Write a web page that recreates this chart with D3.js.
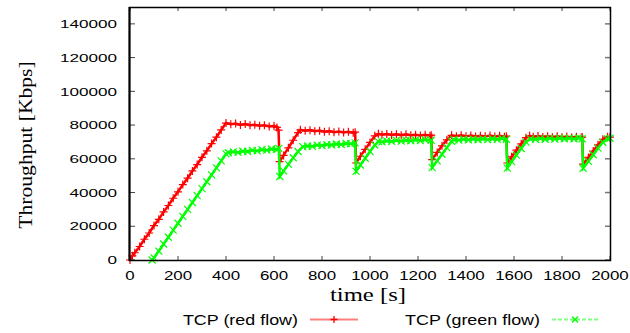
<!DOCTYPE html>
<html>
<head>
<meta charset="utf-8">
<script src="https://cdn.jsdelivr.net/npm/d3@7"></script>
<style>
  body { margin: 0; background: #fff; }
  svg { display: block; }
</style>
</head>
<body>
<svg width="630" height="333"></svg>
<script>
// tick values
var xTicks = [0, 200, 400, 600, 800, 1000, 1200, 1400, 1600, 1800, 2000];
var yTicks = [0, 20000, 40000, 60000, 80000, 100000, 120000, 140000];

// red flow: time [s], throughput [Kbps]
var redTime = [0, 10, 20, 40, 60, 80, 100, 120, 140, 160, 180, 200, 220, 240, 260, 280, 300, 320, 340, 360, 380, 400,
  420, 440, 460, 480, 500, 520, 540, 560, 580, 600, 612, 619, 623,
  640, 660, 680, 700, 710, 730, 750, 770, 790, 810, 830, 850, 870, 890, 910, 930, 938, 942,
  960, 980, 1000, 1020, 1035, 1050, 1070, 1090, 1110, 1130, 1150, 1170, 1190, 1210, 1230, 1250, 1255, 1259,
  1280, 1300, 1320, 1340, 1360, 1380, 1400, 1420, 1440, 1460, 1480, 1500, 1520, 1540, 1560, 1568, 1572,
  1590, 1610, 1630, 1650, 1665, 1680, 1700, 1720, 1740, 1760, 1780, 1800, 1820, 1840, 1860, 1880, 1884, 1888,
  1910, 1930, 1950, 1970, 1990, 2000];
var redValue = [0, 2500, 4300, 8000, 12300, 16000, 20400, 24100, 28500, 32300, 36600, 40400, 44700, 48500, 52800, 56600, 60900, 64700, 69000, 72800, 77100, 81200,
  80500, 80900, 80100, 80600, 79900, 80200, 79600, 79900, 79200, 79500, 78600, 77000, 58300,
  62000, 66500, 71000, 75500, 77200, 76600, 77000, 76300, 76700, 76000, 76400, 75800, 76200, 75600, 76000, 75400, 75800, 57500,
  61500, 65600, 69700, 73600, 74800, 74300, 74700, 74100, 74600, 74000, 74500, 73900, 74300, 73800, 74200, 73700, 74000, 59500,
  63800, 67700, 71200, 73900, 73400, 73900, 73300, 73800, 73200, 73700, 73300, 73800, 73200, 73600, 73100, 73400, 57500,
  61200, 65100, 68900, 72500, 73600, 73100, 73500, 72900, 73400, 72800, 73300, 72800, 73200, 72700, 73100, 72600, 72900, 56800,
  60800, 64600, 68300, 71600, 73000, 72800];

// green flow
var greenTime = [92, 100, 120, 140, 160, 180, 200, 220, 240, 260, 280, 300, 320, 340, 360, 380, 400, 410,
  430, 450, 470, 490, 510, 530, 550, 570, 590, 610, 620, 624,
  640, 660, 680, 700, 720, 740, 760, 780, 800, 820, 840, 860, 880, 900, 920, 938, 942,
  960, 980, 1000, 1020, 1035, 1050, 1070, 1090, 1110, 1130, 1150, 1170, 1190, 1210, 1230, 1255, 1259,
  1280, 1300, 1320, 1340, 1350, 1370, 1390, 1410, 1430, 1450, 1470, 1490, 1510, 1530, 1550, 1568, 1572,
  1590, 1610, 1630, 1650, 1668, 1690, 1710, 1730, 1750, 1770, 1790, 1810, 1830, 1850, 1870, 1884, 1888,
  1910, 1930, 1950, 1970, 1990, 2000];
var greenValue = [0, 1300, 5300, 9500, 13500, 17700, 21800, 25900, 30000, 34100, 38200, 42300, 46400, 50500, 54600, 58800, 62900, 63600,
  64100, 63800, 64500, 64300, 65000, 64700, 65400, 65100, 65800, 65600, 66200, 49500,
  52800, 56700, 60600, 64300, 67200, 67600, 67400, 68100, 67800, 68400, 68200, 68800, 68500, 69100, 68900, 69400, 52500,
  56300, 60300, 64300, 68200, 70200, 70000, 70600, 70300, 70900, 70500, 71000, 70700, 71200, 70800, 71300, 71000, 54800,
  58800, 62700, 66600, 70400, 71300, 71100, 71600, 71200, 71700, 71300, 71800, 71400, 71900, 71500, 72000, 71600, 54500,
  58300, 62200, 66100, 69900, 71800, 71500, 72000, 71600, 72100, 71700, 72200, 71800, 72200, 71800, 72300, 71900, 54400,
  58500, 62400, 66300, 69800, 71800, 72200];

var series = [
  {name: "TCP (red flow)", time: redTime, value: redValue, color: "#ff0000", marker: "plus"},
  {name: "TCP (green flow)", time: greenTime, value: greenValue, color: "#00ff00", marker: "cross"}
];

var svg = d3.select("svg");

var x = d3.scaleLinear().domain([0, 2000]).range([130, 610]);
var y = d3.scaleLinear().domain([0, 150000]).range([260, 7]);

// stretched text helper (the reference text is wide)
function label(g, tx, ty, str, opts) {
  return g.append("text")
    .attr("transform", "translate(" + tx + "," + ty + ")" + (opts.rotate ? " rotate(" + opts.rotate + ")" : "") + " scale(" + opts.sx + ",1)")
    .attr("text-anchor", opts.anchor || "middle")
    .attr("font-family", opts.family || "'Liberation Sans', Arial, sans-serif")
    .attr("font-size", opts.size)
    .attr("fill", "#000")
    .text(str);
}

var plusSym = "M-4,0H4M0,-4V4";
var crossSym = "M-3.5,-3.5L3.5,3.5M-3.5,3.5L3.5,-3.5";

// data
var plot = svg.append("g");
series.forEach(function(s) {
  var pts = s.time.map(function(t, i) { return [t, s.value[i]]; });
  plot.append("path")
    .attr("d", d3.line().x(function(d){ return x(d[0]); }).y(function(d){ return y(d[1]); })(pts))
    .attr("fill", "none")
    .attr("stroke", s.color)
    .attr("stroke-width", 2.5);
  plot.selectAll(null)
    .data(pts)
    .enter()
    .append("path")
    .attr("transform", function(d){ return "translate(" + x(d[0]) + "," + y(d[1]) + ")"; })
    .attr("d", s.marker == "plus" ? plusSym : crossSym)
    .attr("stroke", s.color)
    .attr("stroke-width", 1.2)
    .attr("fill", "none");
});

// frame with mirrored inward ticks
var frame = svg.append("g");
frame.selectAll("line.xt")
  .data(xTicks)
  .enter()
  .append("line")
  .attr("x1", function(d){ return x(d); })
  .attr("x2", function(d){ return x(d); })
  .attr("y1", 260).attr("y2", 256)
  .attr("stroke", "#444").attr("stroke-width", 1);
frame.selectAll("line.xt2")
  .data(xTicks)
  .enter()
  .append("line")
  .attr("x1", function(d){ return x(d); })
  .attr("x2", function(d){ return x(d); })
  .attr("y1", 7).attr("y2", 11)
  .attr("stroke", "#444").attr("stroke-width", 1);
frame.selectAll("line.yt")
  .data(yTicks)
  .enter()
  .append("line")
  .attr("x1", 130).attr("x2", 135)
  .attr("y1", function(d){ return y(d); })
  .attr("y2", function(d){ return y(d); })
  .attr("stroke", "#444").attr("stroke-width", 1);
frame.selectAll("line.yt2")
  .data(yTicks)
  .enter()
  .append("line")
  .attr("x1", 605).attr("x2", 610)
  .attr("y1", function(d){ return y(d); })
  .attr("y2", function(d){ return y(d); })
  .attr("stroke", "#777").attr("stroke-width", 1.5);
frame.append("path")
  .attr("d", "M129.5,7.5H610.5V260.5H129.5Z")
  .attr("fill", "none")
  .attr("stroke", "#000")
  .attr("stroke-width", 1.5);
frame.append("line")
  .attr("x1", 129.5).attr("x2", 129.5).attr("y1", 7).attr("y2", 261)
  .attr("stroke", "#000").attr("stroke-width", 2);

// tick labels
xTicks.forEach(function(d) {
  label(svg, x(d), 280, d, {sx: 1.25, size: 13.5});
});
yTicks.forEach(function(d) {
  label(svg, 117, y(d) + 4.2, d, {sx: 1.45, size: 11.8, anchor: "end"});
});

// axis titles
label(svg, 368, 300.5, "time [s]", {sx: 1.3, size: 19, family: "'Liberation Serif', 'Times New Roman', serif"});
label(svg, 32, 145, "Throughput [Kbps]", {sx: 1.2, size: 18, rotate: -90, family: "'Liberation Serif', 'Times New Roman', serif"});

// legend
var legend = [
  {tx: 298, lx1: 310, lx2: 358, mx: 334},
  {tx: 540, lx1: 552, lx2: 598, mx: 575}
];
series.forEach(function(s, i) {
  var L = legend[i];
  label(svg, L.tx, 325, s.name, {sx: 1.28, size: 14, anchor: "end"});
  svg.append("line")
    .attr("x1", L.lx1).attr("x2", L.lx2).attr("y1", 319.5).attr("y2", 319.5)
    .attr("stroke", s.color).attr("stroke-opacity", 0.5).attr("stroke-width", 2)
    .attr("stroke-dasharray", s.marker == "cross" ? "4,2" : null);
  svg.append("path")
    .attr("transform", "translate(" + L.mx + ",319.5)")
    .attr("d", s.marker == "plus" ? "M-3.5,0H3.5M0,-3.5V3.5" : "M-3,-3L3,3M-3,3L3,-3")
    .attr("stroke", s.color).attr("stroke-width", 1.3).attr("fill", "none");
});
</script>
</body>
</html>
